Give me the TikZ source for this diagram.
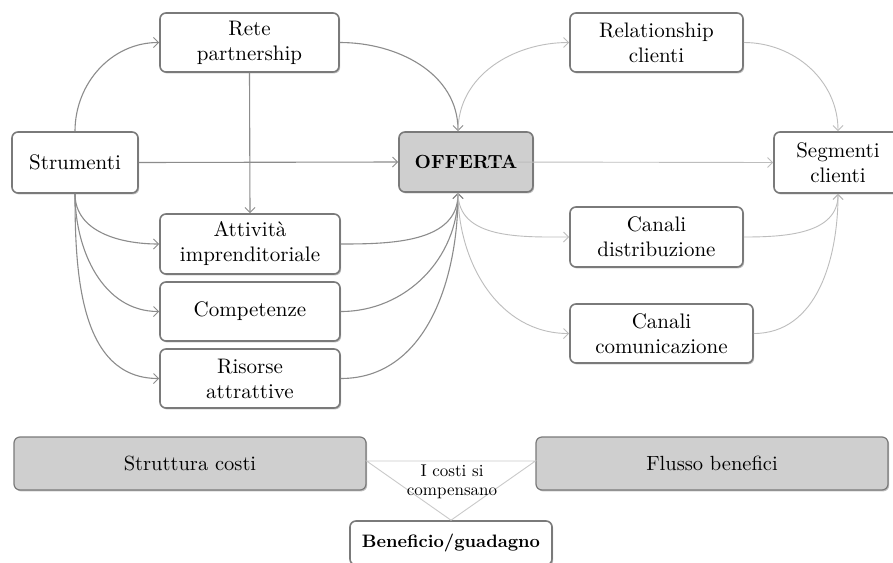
\documentclass[tikz,border=0pt]{standalone}
\usepackage{fontspec}
\setmainfont{lmroman10-regular.otf}[BoldFont=lmroman10-bold.otf]
\usetikzlibrary{arrows.meta,shadows}
\definecolor{bordc}{HTML}{7A7A7A}
\definecolor{darkln}{HTML}{8C8C8C}
\definecolor{lightln}{HTML}{BDBDBD}
\definecolor{boxgray}{HTML}{CFCFCF}
\definecolor{triln}{HTML}{CACACA}
\begin{document}
\begin{tikzpicture}[x=1pt,y=1pt,
 box/.style={draw=bordc, line width=1.6pt, rounded corners=6pt, fill=white, align=center, inner sep=0pt,
   font=\fontsize{21}{25}\selectfont,
   drop shadow={shadow xshift=1.2pt, shadow yshift=-1.4pt, opacity=0.25, fill=black}},
 gbox/.style={box, fill=boxgray},
 arrowtip/.style={-{Straight Barb[length=5pt,width=10pt,line width=1pt]}},
 dk/.style={arrowtip, draw=darkln, line width=1.1pt},
 lt/.style={arrowtip, draw=lightln, line width=0.9pt},
]
\fill[white] (0,0) rectangle (893,-562);
\useasboundingbox (0,0) rectangle (893,-562);

% nodes
\node[box, minimum width=179pt, minimum height=59pt] (rete) at (249.5,-42.5) {Rete\\partnership};
\node[box, minimum width=126pt, minimum height=61pt] (strum) at (75,-162.5) {Strumenti};
\node[gbox, minimum width=134pt, minimum height=60pt, font=\bfseries\fontsize{19}{22}\selectfont] (off) at (466,-162) {OFFERTA};
\node[box, minimum width=173pt, minimum height=59pt] (rel) at (656.5,-42.5) {Relationship\\clienti};
\node[box, minimum width=128pt, minimum height=61pt] (seg) at (838,-162.5) {Segmenti\\clienti};
\node[box, minimum width=180pt, minimum height=60pt] (att) at (250,-244) {Attività\\imprenditoriale};
\node[box, minimum width=180pt, minimum height=59pt] (comp) at (250,-311.5) {Competenze};
\node[box, minimum width=180pt, minimum height=59pt] (ris) at (250,-378.5) {Risorse\\attrattive};
\node[box, minimum width=173pt, minimum height=60pt] (dist) at (656.5,-237) {Canali\\distribuzione};
\node[box, minimum width=183pt, minimum height=59pt] (com) at (661.5,-333.5) {Canali\\comunicazione};

\node[gbox, line width=1.2pt, minimum width=352pt, minimum height=53pt, font=\fontsize{20.5}{24}\selectfont] (costi) at (190,-463.5) {Struttura costi};
\node[gbox, line width=1.2pt, minimum width=352pt, minimum height=53pt, font=\fontsize{20.5}{24}\selectfont] (flusso) at (712,-463.5) {Flusso benefici};
\node[box, minimum width=202pt, minimum height=44pt, font=\bfseries\fontsize{18}{21}\selectfont] (benef) at (451,-543) {Beneficio/guadagno};

% helper coordinates
\coordinate (otop) at ([xshift=-8pt]off.north);
\coordinate (obot) at ([xshift=-8pt]off.south);
\coordinate (ostart) at ([xshift=26pt]off.center);
\coordinate (tl) at ([yshift=2.5pt]costi.east);
\coordinate (tr) at ([yshift=2.5pt]flusso.west);

% left connectors
\draw[dk] (strum.north) to[out=90,in=180] (rete.west);
\draw[dk] (strum.east) -- (off.west);
\draw[dk] (rete.south) -- (att.north);
\draw[dk] (rete.east) to[out=0,in=90] (otop);
\draw[dk] (strum.south) to[out=-90,in=180] (att.west);
\draw[dk] (strum.south) to[out=-90,in=180] (comp.west);
\draw[dk] (strum.south) to[out=-90,in=180] (ris.west);
\draw[dk] (att.east) to[out=0,in=-90] (obot);
\draw[dk] (comp.east) to[out=0,in=-90] (obot);
\draw[dk] (ris.east) to[out=0,in=-90] (obot);

% right connectors
\draw[lt] (otop) to[out=90,in=180] (rel.west);
\draw[lt] (rel.east) to[out=0,in=90] (seg.north);
\draw[lt] (ostart) -- (seg.west);
\draw[lt] (obot) to[out=-90,in=180] (dist.west);
\draw[lt] (obot) to[out=-90,in=180] (com.west);
\draw[lt] (dist.east) to[out=0,in=-90] (seg.south);
\draw[lt] (com.east) to[out=0,in=-90] (seg.south);

% triangle
\draw[triln, line width=0.9pt] (tl) -- (tr) -- (benef.north) -- cycle;
\node[font=\fontsize{17}{19}\selectfont, align=center, inner sep=0pt] (lab) at (452,-482) {I costi si\\compensano};
\end{tikzpicture}
\end{document}
